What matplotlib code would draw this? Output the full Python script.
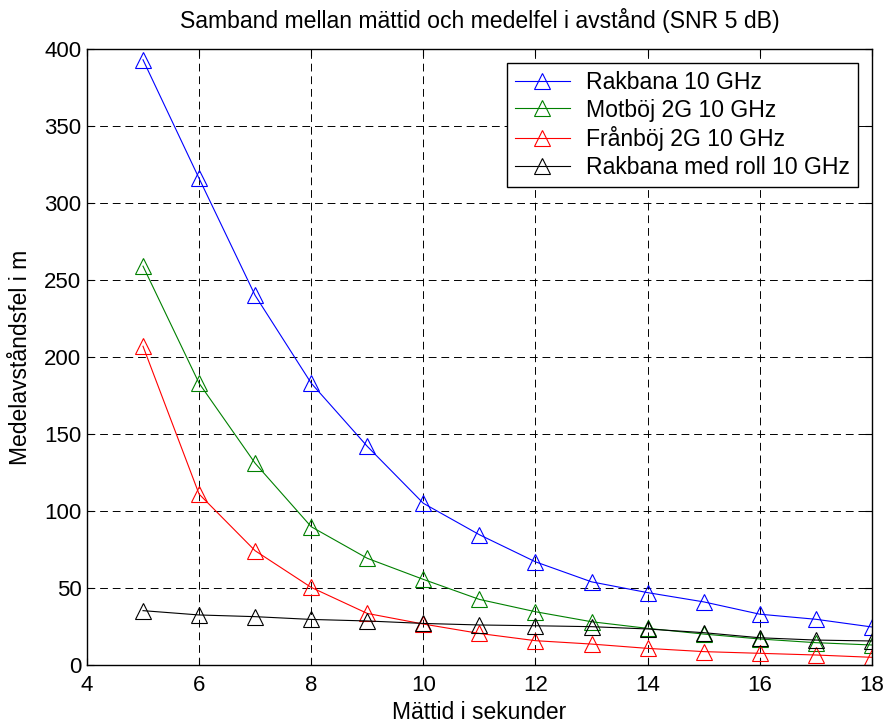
import matplotlib

matplotlib.use("Agg")
import matplotlib.pyplot as plt

plt.rcParams["font.family"] = ["Liberation Sans", "DejaVu Sans"]

# mättid i sekunder
t = [5, 6, 7, 8, 9, 10, 11, 12, 13, 14, 15, 16, 17, 18]

rakbana = [393, 316, 240, 183, 142, 105, 84.6, 67, 54, 47, 41, 33, 29.7, 24.7]
motboj = [259, 183, 131, 89.8, 69.3, 55.6, 42.6, 34.6, 28.1, 23.8, 20.1, 16.9, 14.5, 13]
franboj = [207, 111, 74.2, 50.4, 33.5, 26.6, 20.5, 15.8, 13.6, 10.8, 8.7, 7.6, 6.5, 5]
rakbana_roll = [35.3, 32.5, 31.4, 29.6, 28.6, 27, 26, 25.5, 24.9, 23.4, 21, 17.7, 16.2, 15.6]

labels = ["Rakbana 10 GHz", "Motböj 2G 10 GHz", "Frånböj 2G 10 GHz", "Rakbana med roll 10 GHz"]
colors = ["#0000ff", "#008000", "#ff0000", "#000000"]

fig = plt.figure(figsize=(8.87, 7.26), dpi=100)
ax = fig.add_axes((0.098, 0.084, 0.885, 0.8485))

for y, lab, c in zip([rakbana, motboj, franboj, rakbana_roll], labels, colors):
    ax.plot(t, y, color=c, lw=0.8, marker="^", markersize=12,
            markerfacecolor="none", markeredgecolor=c, markeredgewidth=0.8, label=lab)

ax.set_xlim(4, 18)
ax.set_ylim(0, 400)
ax.set_xticks(range(4, 19, 2))
ax.set_yticks(range(0, 401, 50))
ax.grid(True, color="black", linestyle=(0, (8, 5)), linewidth=0.7)
ax.tick_params(direction="in", top=True, right=True, labelsize=16, length=5)
ax.tick_params(axis="x", pad=7)
ax.tick_params(axis="y", pad=4)
for s in ax.spines.values():
    s.set_linewidth(1.0)

ax.set_title("Samband mellan mättid och medelfel i avstånd (SNR 5 dB)", fontsize=16.6, pad=15)
ax.set_xlabel("Mättid i sekunder", fontsize=16.5, labelpad=4)
ax.set_ylabel("Medelavståndsfel i m", fontsize=16.5, labelpad=9)

leg = ax.legend(loc="upper right", fontsize=16.6, fancybox=False, framealpha=1,
                edgecolor="black", borderaxespad=0.6, handlelength=2.4,
                handletextpad=0.7, labelspacing=0.2, borderpad=0.35)
leg.get_frame().set_linewidth(1.0)

plt.savefig("out.png", dpi=100)
plt.close()
